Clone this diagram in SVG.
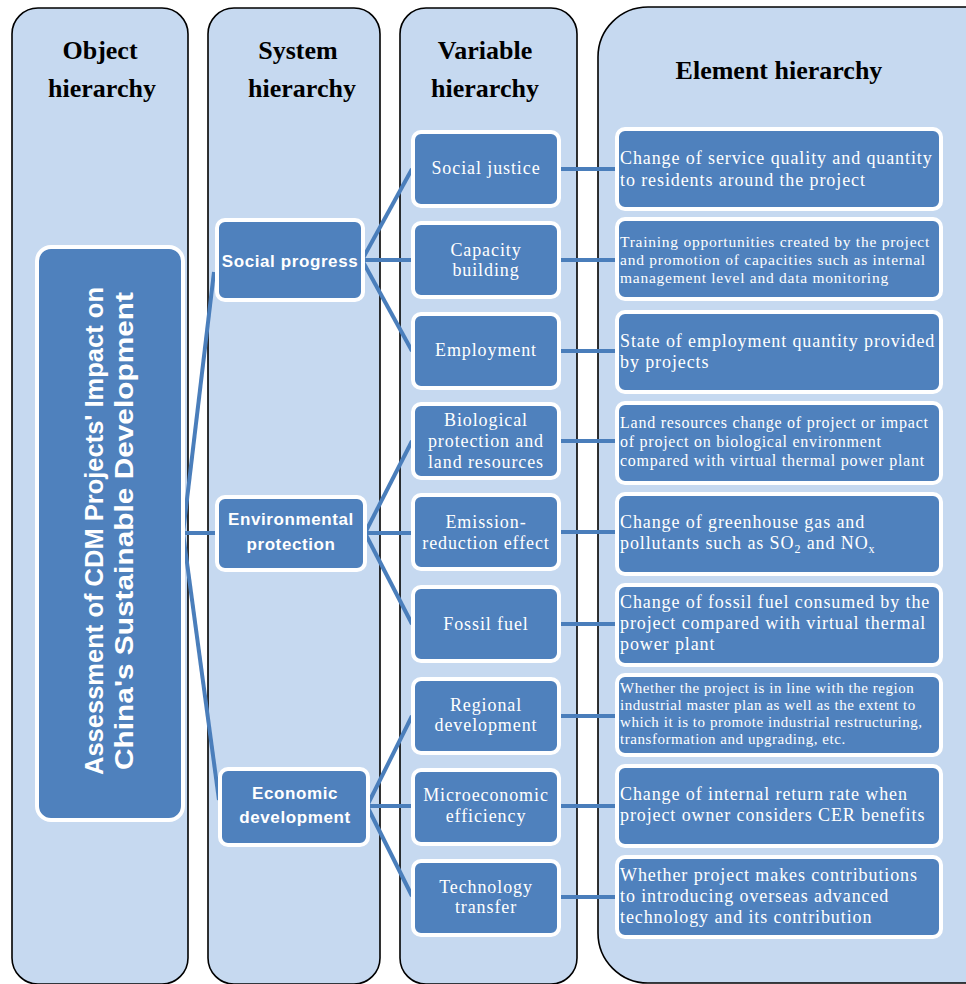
<svg xmlns="http://www.w3.org/2000/svg" width="966" height="984" viewBox="0 0 966 984">
<defs>
<style>
.col{fill:#C6D9F0;stroke:#000;stroke-width:1.6}
.hdr{font-family:"Liberation Serif","Times New Roman",serif;font-weight:bold;font-size:26px;fill:#000;text-anchor:middle}
.node{fill:#4F81BD;stroke:#fff;stroke-width:4}
.big{font-family:"Liberation Sans",Arial,sans-serif;font-weight:bold;font-size:25px;fill:#fff;text-anchor:middle}
.sys{font-family:"Liberation Sans",Arial,sans-serif;font-weight:bold;font-size:17px;fill:#fff;text-anchor:middle;letter-spacing:0.6px}
.var{font-family:"Liberation Serif","Times New Roman",serif;font-size:18px;fill:#fff;text-anchor:middle;letter-spacing:0.9px}
.el{font-family:"Liberation Serif","Times New Roman",serif;font-size:18px;fill:#fff;letter-spacing:0.9px}
.els{font-family:"Liberation Serif","Times New Roman",serif;font-size:15.5px;fill:#fff;letter-spacing:0.75px}
.els7{font-family:"Liberation Serif","Times New Roman",serif;font-size:15px;fill:#fff;letter-spacing:0.55px}
.elm{font-family:"Liberation Serif","Times New Roman",serif;font-size:16px;fill:#fff;letter-spacing:0.75px}
.con{stroke:#4A7EBB;stroke-width:4;fill:none;stroke-linecap:butt}
</style>
</defs>

<g id="columns">
<rect class="col" x="12" y="8" width="176" height="976" rx="26"/>
<rect class="col" x="208" y="8" width="172" height="976" rx="26"/>
<rect class="col" x="400" y="8" width="177" height="976" rx="26"/>
<rect class="col" x="598" y="7" width="420" height="976" rx="50"/>
<text class="hdr" x="100" y="59">Object</text>
<text class="hdr" x="102" y="97">hierarchy</text>
<text class="hdr" x="298" y="59">System</text>
<text class="hdr" x="302" y="97">hierarchy</text>
<text class="hdr" x="485" y="59">Variable</text>
<text class="hdr" x="485" y="97">hierarchy</text>
<text class="hdr" x="779" y="79">Element hierarchy</text>
</g>

<g id="connectors">
<line class="con" x1="183" y1="533" x2="214" y2="272"/>
<line class="con" x1="183" y1="533" x2="217" y2="533"/>
<line class="con" x1="183" y1="533" x2="219" y2="800"/>
<line class="con" x1="362" y1="260" x2="412" y2="169"/>
<line class="con" x1="362" y1="260" x2="412" y2="260"/>
<line class="con" x1="362" y1="260" x2="412" y2="351"/>
<line class="con" x1="365" y1="533" x2="412" y2="441"/>
<line class="con" x1="365" y1="533" x2="412" y2="533"/>
<line class="con" x1="365" y1="533" x2="412" y2="624"/>
<line class="con" x1="367" y1="806" x2="412" y2="716"/>
<line class="con" x1="367" y1="806" x2="412" y2="806"/>
<line class="con" x1="367" y1="806" x2="412" y2="896"/>
<line class="con" x1="559" y1="169" x2="616" y2="169"/>
<line class="con" x1="559" y1="260" x2="616" y2="260"/>
<line class="con" x1="559" y1="351" x2="616" y2="351"/>
<line class="con" x1="559" y1="441" x2="616" y2="441"/>
<line class="con" x1="559" y1="532" x2="616" y2="532"/>
<line class="con" x1="559" y1="624" x2="616" y2="624"/>
<line class="con" x1="559" y1="716" x2="616" y2="716"/>
<line class="con" x1="559" y1="806" x2="616" y2="806"/>
<line class="con" x1="559" y1="897" x2="616" y2="897"/>
</g>

<g id="object-node">
<rect class="node" x="37" y="247" width="146" height="573" rx="14"/>
<g transform="translate(111,531) rotate(-90)">
<text class="big" x="0" y="-8" textLength="488" lengthAdjust="spacingAndGlyphs">Assessment of CDM Projects' Impact on</text>
<text class="big" x="0" y="22" textLength="478" lengthAdjust="spacingAndGlyphs">China's Sustainable Development</text>
</g>
</g>

<g id="sys-social">
<rect class="node" x="217" y="220" width="146" height="80" rx="8"/>
<text class="sys" x="290" y="267">Social progress</text>
</g>
<g id="sys-environment">
<rect class="node" x="217" y="497" width="148" height="73" rx="8"/>
<text class="sys" x="291" y="525">Environmental</text>
<text class="sys" x="291" y="550">protection</text>
</g>
<g id="sys-economic">
<rect class="node" x="220" y="769" width="148" height="76" rx="8"/>
<text class="sys" x="295" y="799">Economic</text>
<text class="sys" x="295" y="823">development</text>
</g>

<g id="var-social-justice">
<rect class="node" x="413" y="132" width="146" height="74" rx="8"/>
<text class="var" x="486" y="174">Social justice</text>
</g>
<g id="var-capacity">
<rect class="node" x="413" y="223" width="146" height="74" rx="8"/>
<text class="var" x="486" y="256">Capacity</text>
<text class="var" x="486" y="276">building</text>
</g>
<g id="var-employment">
<rect class="node" x="413" y="314" width="146" height="74" rx="8"/>
<text class="var" x="486" y="356">Employment</text>
</g>
<g id="var-biological">
<rect class="node" x="413" y="404" width="146" height="74" rx="8"/>
<text class="var" x="486" y="426">Biological</text>
<text class="var" x="486" y="447">protection and</text>
<text class="var" x="486" y="468">land resources</text>
</g>
<g id="var-emission">
<rect class="node" x="413" y="495" width="146" height="74" rx="8"/>
<text class="var" x="486" y="528">Emission-</text>
<text class="var" x="486" y="549">reduction effect</text>
</g>
<g id="var-fossil">
<rect class="node" x="413" y="587" width="146" height="74" rx="8"/>
<text class="var" x="486" y="630">Fossil fuel</text>
</g>
<g id="var-regional">
<rect class="node" x="413" y="679" width="146" height="74" rx="8"/>
<text class="var" x="486" y="711">Regional</text>
<text class="var" x="486" y="731">development</text>
</g>
<g id="var-micro">
<rect class="node" x="413" y="770" width="146" height="74" rx="8"/>
<text class="var" x="486" y="801">Microeconomic</text>
<text class="var" x="486" y="822">efficiency</text>
</g>
<g id="var-technology">
<rect class="node" x="413" y="861" width="146" height="74" rx="8"/>
<text class="var" x="486" y="893">Technology</text>
<text class="var" x="486" y="913">transfer</text>
</g>

<g id="el-1">
<rect class="node" x="617" y="129" width="324" height="80" rx="8"/>
<text class="el" x="620" y="164">Change of service quality and quantity</text>
<text class="el" x="620" y="186">to residents around the project</text>
</g>
<g id="el-2">
<rect class="node" x="617" y="219" width="324" height="80" rx="8"/>
<text class="els" x="620" y="247">Training opportunities created by the project</text>
<text class="els" x="620" y="265">and promotion of capacities such as internal</text>
<text class="els" x="620" y="283">management level and data monitoring</text>
</g>
<g id="el-3">
<rect class="node" x="617" y="312" width="324" height="80" rx="8"/>
<text class="el" x="620" y="347">State of employment quantity provided</text>
<text class="el" x="620" y="368">by projects</text>
</g>
<g id="el-4">
<rect class="node" x="617" y="403" width="324" height="80" rx="8"/>
<text class="elm" x="620" y="428">Land resources change of project or impact</text>
<text class="elm" x="620" y="447">of project on biological environment</text>
<text class="elm" x="620" y="466">compared with virtual thermal power plant</text>
</g>
<g id="el-5">
<rect class="node" x="617" y="494" width="324" height="80" rx="8"/>
<text class="el" x="620" y="528">Change of greenhouse gas and</text>
<text class="el" x="620" y="549">pollutants such as SO<tspan font-size="12" dy="4">2</tspan><tspan dy="-4"> and NO</tspan><tspan font-size="12" dy="4">x</tspan></text>
</g>
<g id="el-6">
<rect class="node" x="617" y="585" width="324" height="80" rx="8"/>
<text class="el" x="620" y="608">Change of fossil fuel consumed by the</text>
<text class="el" x="620" y="629">project compared with virtual thermal</text>
<text class="el" x="620" y="650">power plant</text>
</g>
<g id="el-7">
<rect class="node" x="617" y="675" width="324" height="80" rx="8"/>
<text class="els7" x="620" y="693">Whether the project is in line with the region</text>
<text class="els7" x="620" y="710">industrial master plan as well as the extent to</text>
<text class="els7" x="620" y="727">which it is to promote industrial restructuring,</text>
<text class="els7" x="620" y="744">transformation and upgrading, etc.</text>
</g>
<g id="el-8">
<rect class="node" x="617" y="766" width="324" height="80" rx="8"/>
<text class="el" x="620" y="800">Change of internal return rate when</text>
<text class="el" x="620" y="821">project owner considers CER benefits</text>
</g>
<g id="el-9">
<rect class="node" x="617" y="857" width="324" height="80" rx="8"/>
<text class="el" x="620" y="881">Whether project makes contributions</text>
<text class="el" x="620" y="902">to introducing overseas advanced</text>
<text class="el" x="620" y="923">technology and its contribution</text>
</g>
</svg>
